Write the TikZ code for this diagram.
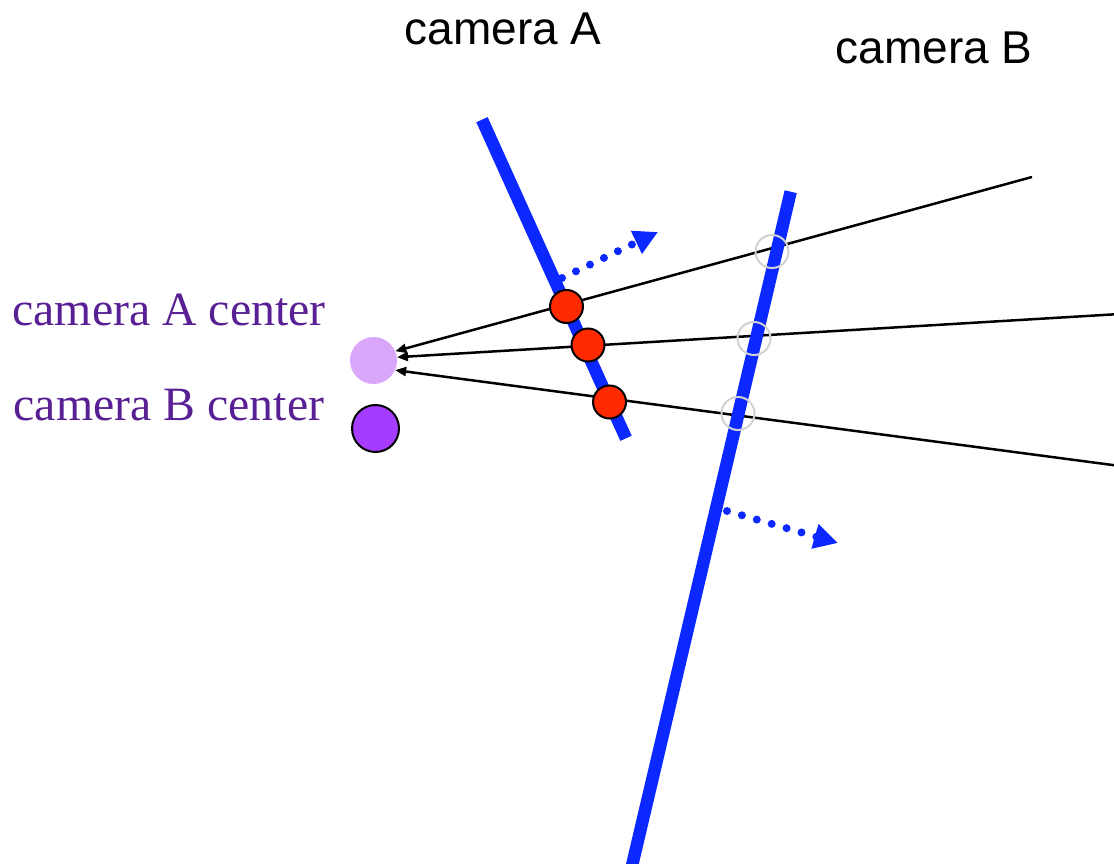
\documentclass[tikz,border=0pt]{standalone}
\usepackage{fontspec}
\setmainfont{Liberation Serif}
\newfontfamily\labelsans{Liberation Sans}
\usetikzlibrary{arrows.meta}
\definecolor{planeblue}{RGB}{10,40,255}
\definecolor{ptred}{RGB}{255,42,0}
\definecolor{lightpurple}{RGB}{217,166,250}
\definecolor{darkpurple}{RGB}{166,60,255}
\definecolor{txtpurple}{RGB}{88,32,148}
\tikzset{
  camlabel/.style={inner sep=0pt, anchor=base, font=\labelsans\fontsize{46}{50}\selectfont},
  centerlabel/.style={inner sep=0pt, anchor=base, text=txtpurple, font=\fontsize{47.8}{56}\selectfont},
  plane/.style={draw=planeblue, line width=12.5pt},
  ray/.style={draw=black, line width=2.5pt, -{Triangle[length=11pt,width=9pt]}},
  redpt/.style={circle, draw=black, line width=2pt, fill=ptred, minimum size=33pt, inner sep=0pt},
  graypt/.style={circle, draw=black!18, line width=2pt, minimum size=33pt, inner sep=0pt},
  dotarrow/.style={draw=planeblue, line width=8pt, line cap=round, dash pattern=on 0pt off 15.5pt, -{Triangle[length=24pt,width=24pt]}},
}
\begin{document}
\begin{tikzpicture}[x=1pt, y=-1pt]
\useasboundingbox (0,0) rectangle (1114,864);
\clip (0,0) rectangle (1114,864);
% labels
\node[camlabel] (labA) at (503,45) {camera A};
\node[camlabel] (labB) at (934,64) {camera B};
\node[centerlabel] (labAc) at (169,325) {camera A center};
\node[centerlabel] (labBc) at (169,420) {camera B center};
% camera centers
\node[circle, fill=lightpurple, minimum size=47pt, inner sep=0pt] (cA) at (373.5,360.5) {};
\node[circle, draw=black, line width=2pt, fill=darkpurple, minimum size=47pt, inner sep=0pt] (cB) at (375.5,428.5) {};
% ray far ends
\coordinate (e1) at (1032,177);
\coordinate (e2) at (1120,314);
\coordinate (e3) at (1120,466);
\draw[ray] (e1) -- (cA.23);
\draw[ray] (e2) -- (cA.8);
\draw[ray] (e3) -- (cA.-24);
% image planes
\coordinate (pa1) at (482,119.7);
\coordinate (pa2) at (626,438.3);
\coordinate (pb1) at (790.7,191.7);
\coordinate (pb2) at (631,870);
\draw[plane] (pa1) -- (pa2);
\draw[plane] (pb1) -- (pb2);
% viewing direction arrows
\coordinate (da1) at (562,278);
\coordinate (da2) at (658,232);
\coordinate (db1) at (727,511);
\coordinate (db2) at (838,543);
\draw[dotarrow] (da1) -- (da2);
\draw[dotarrow] (db1) -- (db2);
% points on camera B plane
\node[graypt] (g1) at (772,251.5) {};
\node[graypt] (g2) at (754,338.5) {};
\node[graypt] (g3) at (738,413.5) {};
% points on camera A plane
\node[redpt] (r1) at (566.5,306.5) {};
\node[redpt] (r2) at (588,345) {};
\node[redpt] (r3) at (609.5,402) {};
\end{tikzpicture}
\end{document}
